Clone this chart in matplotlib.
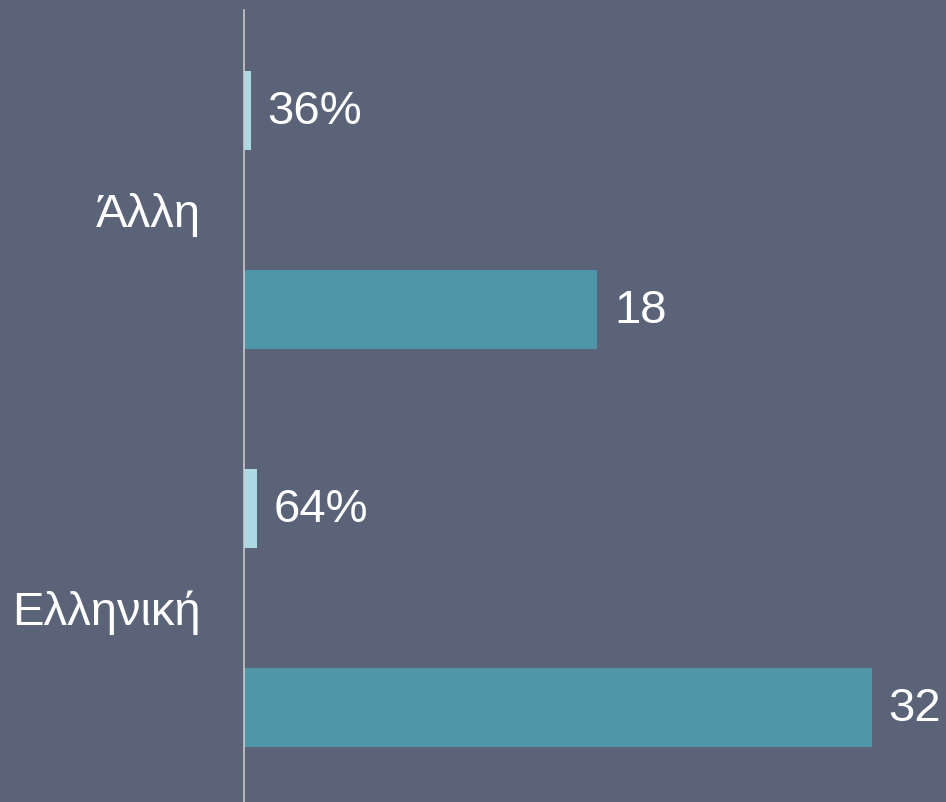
import matplotlib
matplotlib.use("Agg")
import matplotlib.pyplot as plt

# data
categories = ["Ελληνική", "Άλλη"]
counts = [32, 18]
shares = [0.64, 0.36]
share_labels = ["64%", "36%"]

bg = "#5b6378"
plt.rcParams["font.family"] = ["Liberation Sans", "DejaVu Sans"]

fig = plt.figure(figsize=(9.46, 8.02), dpi=100)
fig.patch.set_facecolor(bg)
ax = fig.add_axes([244 / 946, 0, 1 - 244 / 946, 792 / 802])
ax.set_facecolor(bg)

ypos = list(range(len(categories)))
h = 0.2
bars_c = ax.barh([y - 0.25 for y in ypos], counts, height=h, color="#4f96a8")
bars_s = ax.barh([y + 0.25 for y in ypos], shares, height=h, color="#add8e6")

for b, v in zip(bars_c, counts):
    ax.annotate(str(v), (b.get_width(), b.get_y() + h / 2), xytext=(12, -1),
                textcoords="offset points", va="center", ha="left",
                color="white", fontsize=34)
for b, s in zip(bars_s, share_labels):
    ax.annotate(s, (b.get_width(), b.get_y() + h / 2), xytext=(12, -1),
                textcoords="offset points", va="center", ha="left",
                color="white", fontsize=34)

ax.set_xlim(0, 35.77)
ax.set_ylim(-0.4875, 1.5025)
ax.set_yticks(ypos)
ax.set_yticklabels(categories, color="white", fontsize=34)
ax.tick_params(axis="y", length=0, pad=31)
ax.set_xticks([])
for side in ["top", "right", "bottom"]:
    ax.spines[side].set_visible(False)
ax.spines["left"].set_color("#c8c8c8")
ax.spines["left"].set_linewidth(1.2)

fig.savefig("out.png", dpi=100, facecolor=bg)
